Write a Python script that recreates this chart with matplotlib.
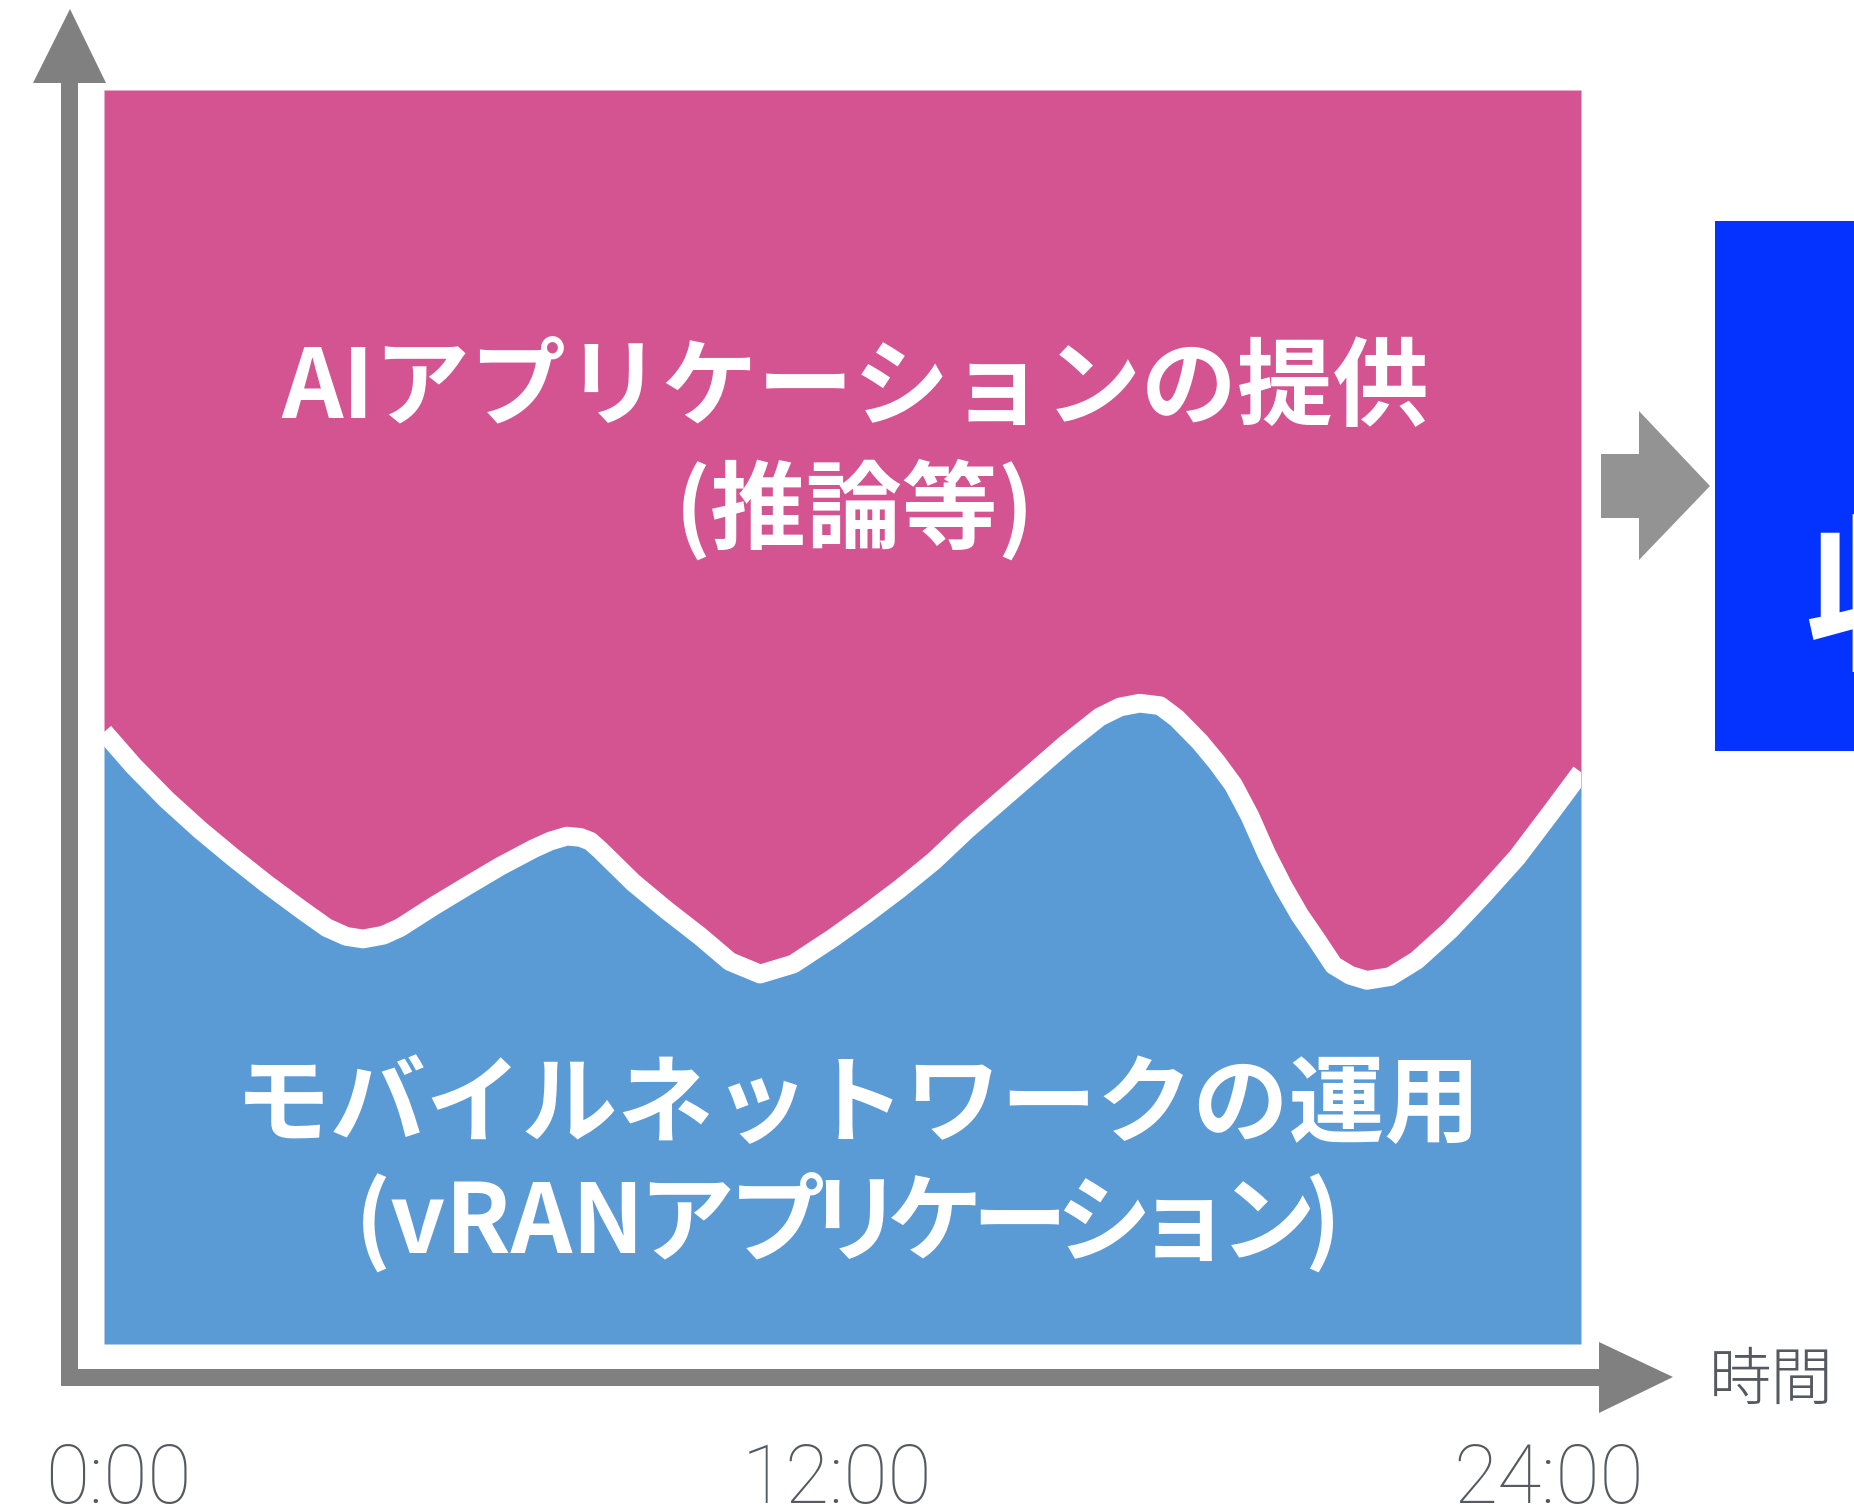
import matplotlib
matplotlib.use("Agg")
import matplotlib.pyplot as plt
from matplotlib.patches import Polygon, Rectangle
from matplotlib.transforms import ScaledTranslation

plt.rcParams['font.family'] = ['Noto Sans CJK JP', 'DejaVu Sans']

# hour of day and share of compute used by the mobile network (%)
hours = [0.0, 0.48, 1.02, 1.56, 2.1, 2.64, 3.19, 3.62, 3.94, 4.21, 4.54, 4.81,
         5.35, 5.89, 6.44, 6.98, 7.25, 7.52, 7.74, 7.9, 8.06, 8.6, 9.14, 9.69,
         10.17, 10.66, 11.2, 11.85, 12.39, 12.93, 13.48, 14.02, 14.56, 15.1,
         15.64, 16.18, 16.51, 16.83, 17.16, 17.43, 17.81, 18.08, 18.35, 18.62,
         18.89, 19.16, 19.43, 19.71, 19.98, 20.25, 20.52, 20.9, 21.33, 21.87,
         22.41, 22.96, 23.5, 24.0]
ran_load = [48.8, 46.1, 43.4, 41.0, 38.8, 36.7, 34.7, 33.2, 32.5, 32.3, 32.6,
            33.2, 34.9, 36.5, 38.1, 39.5, 40.1, 40.5, 40.4, 40.1, 39.4, 36.8,
            34.6, 32.5, 30.5, 29.5, 30.3, 32.4, 34.3, 36.3, 38.5, 41.0, 43.3,
            45.6, 47.9, 50.0, 50.8, 51.1, 50.9, 49.9, 48.0, 46.4, 44.6, 42.1,
            39.1, 36.5, 34.2, 32.2, 30.2, 29.4, 29.0, 29.3, 30.6, 33.0, 35.8,
            38.8, 42.3, 45.6]

tick_hours = [0, 12, 24]
tick_labels = ['0:00', '12:00', '24:00']

ai_label = ['AIアプリケーションの提供', '(推論等)']
ran_label = ['モバイルネットワークの運用', '(vRANアプリケーション)']
time_label = '時間'
box_label = '収益'

PINK = '#D45491'
BLUE = '#5B9BD5'
GRAY = '#808080'
TXT = '#555A61'

W, H = 1854, 1510
fig = plt.figure(figsize=(W / 100, H / 100), dpi=100)

# main area chart
left, right = 104 / W, 1581 / W
bottom, top = (H - 1344) / H, (H - 90) / H
ax = fig.add_axes([left, bottom, right - left, top - bottom])
ax.patch.set_visible(False)
ax.fill_between(hours, 0, ran_load, color=BLUE, lw=0)
ax.fill_between(hours, ran_load, 100, color=PINK, lw=0)
ax.plot(hours, ran_load, color='white', lw=13.5, solid_joinstyle='round',
        solid_capstyle='butt')
ax.set_xlim(0, 24)
ax.set_ylim(0, 100)
for s in ax.spines.values():
    s.set_visible(False)
ax.set_yticks([])
ax.set_xticks(tick_hours, tick_labels)
ax.tick_params(axis='x', length=0, pad=70, labelsize=58, labelcolor=TXT)
for lab, dx in zip(ax.get_xticklabels(), [14, -6, -32]):
    lab.set_family(['Roboto', 'DejaVu Sans'])
    lab.set_weight('light')
    lab.set_transform(lab.get_transform() + ScaledTranslation(dx / 100, 0, fig.dpi_scale_trans))

txt = dict(fontsize=69, color='white', weight='bold')
ax.text(12.2, 76.1, ai_label[0], ha='center', va='center', **txt)
ax.text(12.2, 66.4, ai_label[1], ha='center', va='center', **txt)
ax.text(12.25, 18.9, ran_label[0], ha='center', va='center', **txt)

# decoration layer in pixel coordinates, drawn on top
bg = fig.add_axes([0, 0, 1, 1])
bg.set_xlim(0, W)
bg.set_ylim(H, 0)
bg.axis('off')

# y axis arrow
bg.add_patch(Rectangle((61.5, 80), 16.5, 1306, color=GRAY, lw=0))
bg.add_patch(Polygon([(33, 83), (106, 83), (70, 9)], color=GRAY, lw=0))
# x axis arrow
bg.add_patch(Rectangle((61.5, 1369), 1540, 17, color=GRAY, lw=0))
bg.add_patch(Polygon([(1599, 1342), (1599, 1413), (1673, 1377)], color=GRAY, lw=0))
bg.text(1771, 1382, time_label, fontsize=45, color=TXT, weight='light',
        ha='center', va='center')

# arrow to the blue box
bg.add_patch(Polygon([(1601, 454), (1639, 454), (1639, 411), (1710, 486),
                      (1639, 560), (1639, 518), (1601, 518)],
                     color='#939393', lw=0))
bg.add_patch(Rectangle((1715, 221), 200, 530, color='#0433FF', lw=0))
bg.text(1804, 607, box_label, fontsize=122, color='white', weight='bold',
        ha='left', va='center', clip_on=True)

# second label line: katakana set tightly (proportional spacing)
line = ran_label[1]
base_y = 1254
bg.text(645, base_y, line[:5], ha='right', va='baseline', **txt)
kana_x = [686, 777, 854, 935, 1019, 1103, 1184, 1268]
for ch, x in zip(line[5:-1], kana_x):
    bg.text(x, base_y, ch, ha='center', va='baseline', **txt)
bg.text(1304, base_y, line[-1], ha='left', va='baseline', **txt)

fig.savefig('out.png', dpi=100)
